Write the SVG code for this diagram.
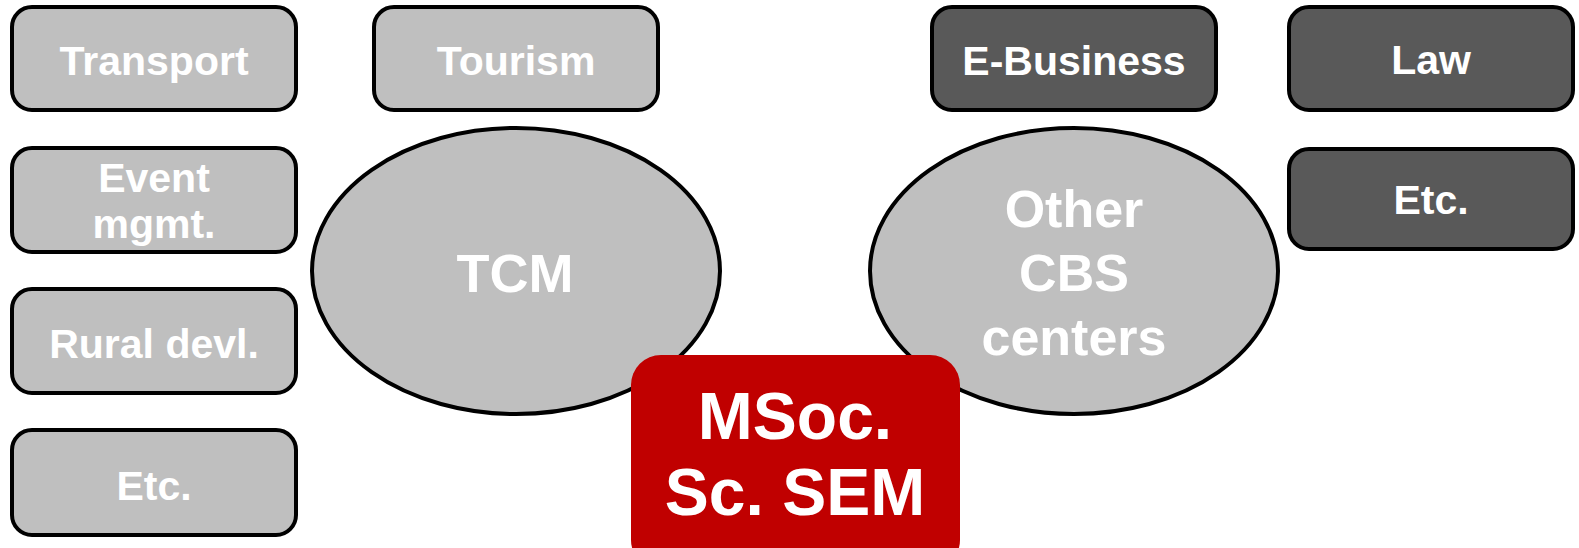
<svg xmlns="http://www.w3.org/2000/svg" width="1579" height="548" viewBox="0 0 1579 548">
<style>
.box{stroke:#000;stroke-width:4}
.lt{fill:#BFBFBF}
.dk{fill:#595959}
.red{fill:#C00000}
text{font-family:"Liberation Sans",Arial,sans-serif;font-weight:bold;fill:#fff;text-anchor:middle}
.s40{font-size:41px}
.s54{font-size:54px}
.s52{font-size:52px}
.s66{font-size:66px}
</style>
<g id="transport"><rect class="box lt" x="12" y="7" width="284" height="103" rx="20"/><text class="s40" x="154" y="75">Transport</text></g>
<g id="event"><rect class="box lt" x="12" y="148" width="284" height="104" rx="20"/><text class="s40" x="154" y="192">Event</text><text class="s40" x="154" y="238">mgmt.</text></g>
<g id="rural"><rect class="box lt" x="12" y="289" width="284" height="104" rx="20"/><text class="s40" x="154" y="358">Rural devl.</text></g>
<g id="etc-left"><rect class="box lt" x="12" y="430" width="284" height="105" rx="20"/><text class="s40" x="154" y="500">Etc.</text></g>
<g id="tourism"><rect class="box lt" x="374" y="7" width="284" height="103" rx="20"/><text class="s40" x="516" y="75">Tourism</text></g>
<g id="ebusiness"><rect class="box dk" x="932" y="7" width="284" height="103" rx="20"/><text class="s40" x="1074" y="75">E-Business</text></g>
<g id="law"><rect class="box dk" x="1289" y="7" width="284" height="103" rx="20"/><text class="s40" x="1431" y="74">Law</text></g>
<g id="etc-right"><rect class="box dk" x="1289" y="149" width="284" height="100" rx="20"/><text class="s40" x="1431" y="214">Etc.</text></g>
<g id="tcm"><ellipse class="box lt" cx="516" cy="271" rx="204" ry="143"/><text class="s54" x="515" y="292">TCM</text></g>
<g id="other"><ellipse class="box lt" cx="1074" cy="271" rx="204" ry="143"/><text class="s52" x="1074" y="227">Other</text><text class="s52" x="1074" y="291">CBS</text><text class="s52" x="1074" y="355">centers</text></g>
<g id="msoc"><rect class="red" x="631" y="355" width="329" height="215" rx="30"/><text class="s66" x="795" y="439">MSoc.</text><text class="s66" x="795" y="515">Sc. SEM</text></g>
<g id="connectors"></g>
</svg>
